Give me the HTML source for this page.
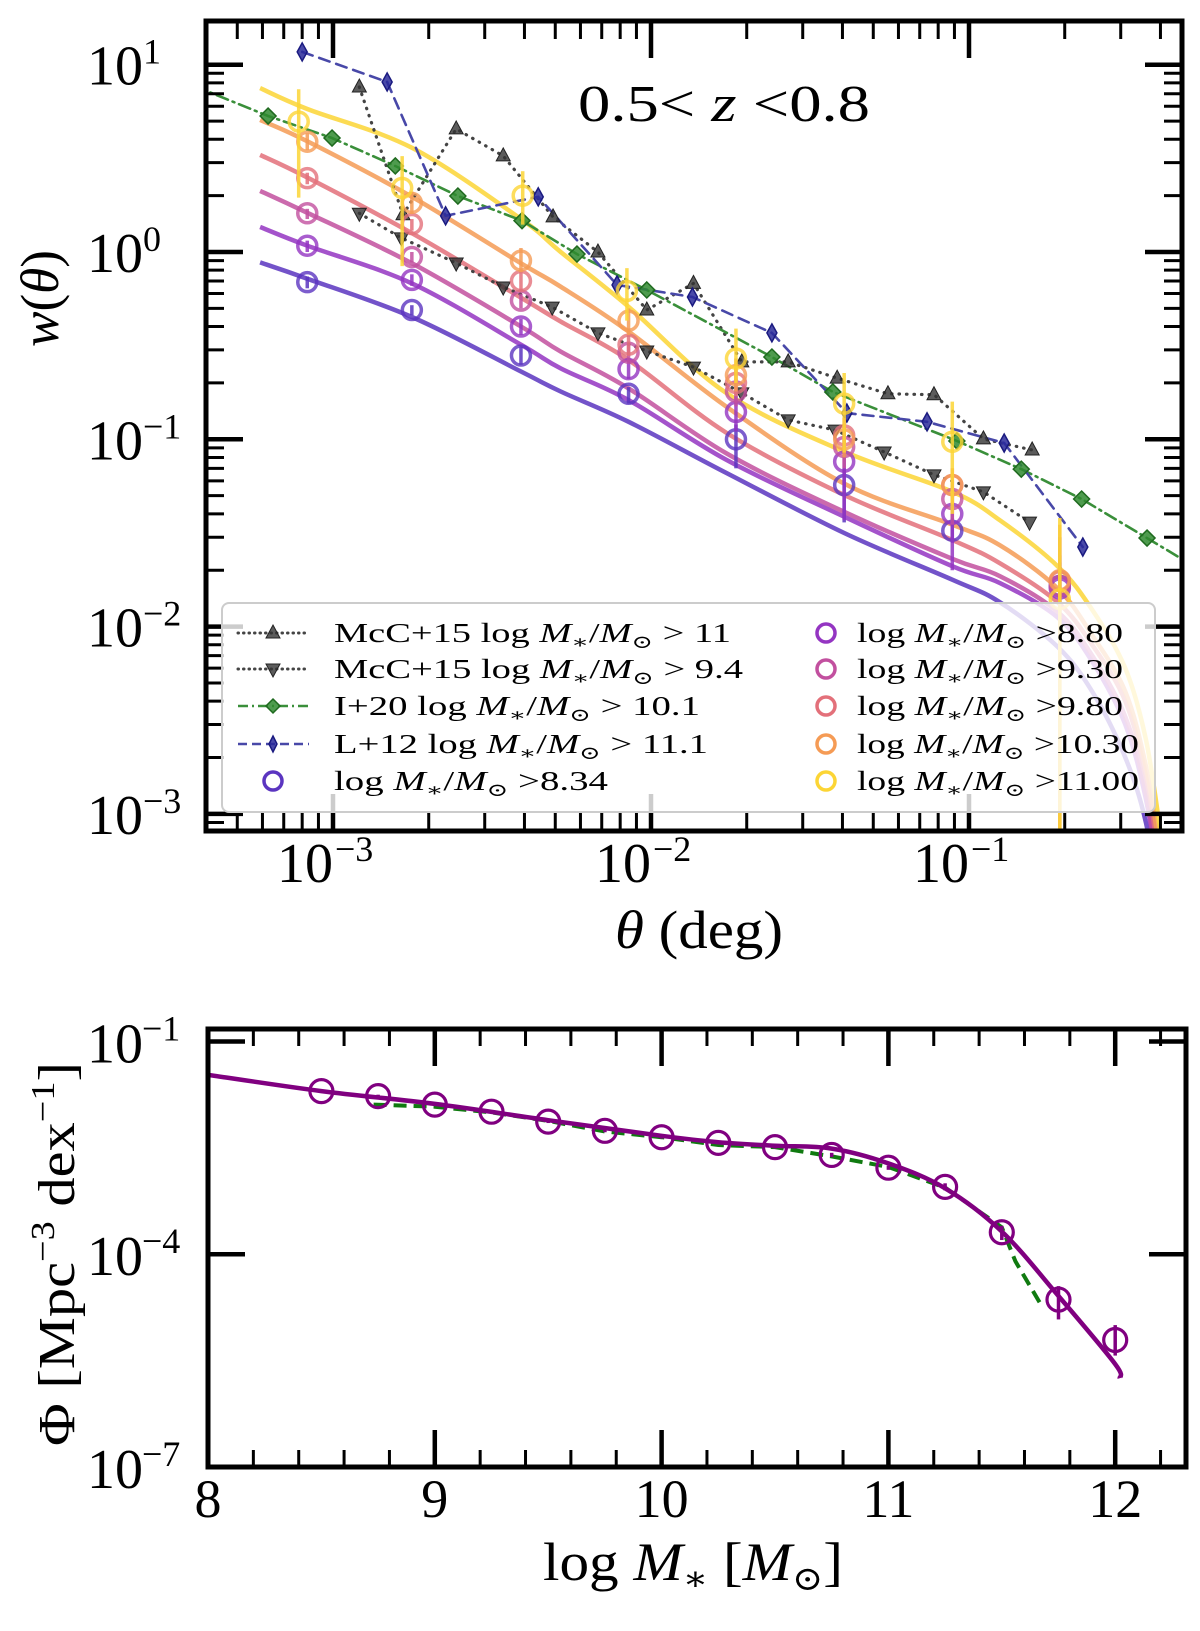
<!DOCTYPE html>
<html><head><meta charset="utf-8"><style>
html,body{margin:0;padding:0;background:#fff;}
svg{display:block;font-family:"Liberation Serif","DejaVu Serif",serif;}
</style></head><body>
<svg id="fig" width="1200" height="1631" viewBox="0 0 1200 1631" xmlns="http://www.w3.org/2000/svg">
<defs>
<clipPath id="clipTop"><rect x="206" y="21" width="976" height="810"/></clipPath>
<clipPath id="clipBot"><rect x="208" y="1029" width="978" height="438"/></clipPath>
</defs>
<g id="topPanel"></g>
<g id="botPanel"></g>
</svg>
<script>
// ---------- TOP PANEL DATA ----------
const thetaCols = [8.3e-4,1.77e-3,3.9e-3,8.5e-3,1.85e-2,4.05e-2,8.86e-2,0.193];
const thetaColsYellow = [7.8e-4,1.65e-3,3.95e-3,8.4e-3,1.85e-2,4.05e-2,8.86e-2,0.193];
const thetaFit = [5.9e-4,8.3e-4,1.77e-3,3.9e-3,5.2e-3,8.5e-3,1.73e-2,4.05e-2,8.86e-2,0.125,0.19,0.244,0.31,0.36,0.40];
const seriesLabels = ["8.34","8.80","9.30","9.80","10.30","11.00"];
const fit834 = [0.88,0.72,0.45,0.23,0.18,0.124,0.066,0.0316,0.0178,0.0135,0.0078,0.0045,0.002,0.0009,0.0003];
const fit880 = [1.36,1.08,0.68,0.32,0.239,0.162,0.0775,0.0386,0.021,0.0171,0.0112,0.0065,0.003,0.0012,0.0004];
const fit930 = [2.12,1.62,0.87,0.40,0.294,0.187,0.084,0.041,0.023,0.0186,0.012,0.007,0.0033,0.0013,0.0004];
const fit980 = [3.3,2.5,1.26,0.57,0.425,0.265,0.108,0.0504,0.029,0.0218,0.0135,0.008,0.004,0.0016,0.0005];
const fit1030 = [5.07,3.9,1.97,0.87,0.653,0.376,0.149,0.058,0.035,0.0272,0.016,0.009,0.0045,0.0018,0.0006];
const fit1100 = [7.5,5.8,3.6,1.5,1.0,0.51,0.176,0.086,0.0525,0.037,0.021,0.0123,0.006,0.0025,0.0008];
const w834 = [0.69,0.49,0.28,0.175,0.10,0.057,0.0325,0.0165];
const w880 = [1.08,0.71,0.40,0.237,0.14,0.076,0.040,0.016];
const w930 = [1.61,0.94,0.55,0.29,0.18,0.091,0.048,0.0165];
const w980 = [2.48,1.41,0.70,0.32,0.20,0.105,0.057,0.0175];
const w1030 = [3.88,1.83,0.90,0.43,0.22,0.10,0.057,0.0177];
const w1100 = [4.97,2.2,2.0,0.62,0.27,0.155,0.097,0.014];
const lo834 = [0.64,0.46,0.25,0.155,0.07,0.036,0.028,0.012];
const hi834 = [0.74,0.52,0.31,0.19,0.12,0.07,0.038,0.022];
const lo880 = [1.0,0.66,0.36,0.21,0.11,0.037,0.02,0.011];
const hi880 = [1.15,0.76,0.44,0.27,0.17,0.1,0.05,0.024];
const lo930 = [1.5,0.88,0.5,0.26,0.15,0.07,0.035,0.01];
const hi930 = [1.7,1.0,0.6,0.32,0.21,0.11,0.06,0.03];
const lo980 = [2.3,1.3,0.62,0.28,0.17,0.085,0.045,0.0002];
const hi980 = [2.65,1.5,0.78,0.36,0.24,0.13,0.07,0.03];
const lo1030 = [3.5,1.6,0.78,0.36,0.18,0.08,0.045,0.0001];
const hi1030 = [4.3,2.1,1.05,0.5,0.27,0.12,0.07,0.035];
const lo1100 = [1.95,0.84,1.4,0.43,0.2,0.085,0.04,0.0001];
const hi1100 = [7.4,3.25,2.7,0.82,0.39,0.226,0.159,0.038];
// literature
const mccHiTheta = [1.21e-3,1.66e-3,2.44e-3,3.43e-3,4.92e-3,6.81e-3,9.7e-3,1.36e-2,1.93e-2,2.70e-2,3.85e-2,5.56e-2,7.76e-2,0.111,0.158];
const mccHiW = [7.6,1.58,4.54,3.26,1.54,1.0,0.49,0.68,0.259,0.259,0.212,0.175,0.173,0.1005,0.0877];
const mccLoTheta = [1.21e-3,1.64e-3,2.44e-3,3.43e-3,4.89e-3,6.81e-3,9.7e-3,1.36e-2,1.93e-2,2.70e-2,3.79e-2,5.41e-2,7.76e-2,0.111,0.155];
const mccLoW = [1.61,1.19,0.873,0.65,0.508,0.370,0.296,0.243,0.177,0.127,0.112,0.0855,0.0646,0.0524,0.0361];
const i20Theta = [2.66e-4,6.25e-4,9.93e-4,1.57e-3,2.47e-3,3.93e-3,5.85e-3,9.7e-3,2.40e-2,3.73e-2,9.16e-2,0.146,0.226,0.363,0.662];
const i20W = [9.6,5.32,4.06,2.88,1.99,1.47,0.975,0.627,0.275,0.179,0.098,0.0693,0.048,0.0297,0.0161];
const l12Theta = [8.0e-4,1.48e-3,2.26e-3,4.42e-3,7.82e-3,1.35e-2,2.40e-2,4.13e-2,7.38e-2,0.129,0.228];
const l12W = [11.7,8.09,1.56,1.97,0.667,0.575,0.370,0.138,0.124,0.0955,0.0266];
const topYTicks = [1,0,-1,-2,-3];
const topYTickLabels = ["1","0","\u22121","\u22122","\u22123"];
const topXTicks = [-3,-2,-1];
const topXTickLabels = ["\u22123","\u22122","\u22121"];
// ---------- BOTTOM PANEL DATA ----------
const massPts = [8.5,8.75,9.0,9.25,9.5,9.75,10,10.25,10.5,10.75,11,11.25,11.5,11.75,12];
const logPhiPts = [-1.70,-1.77,-1.89,-1.99,-2.13,-2.26,-2.35,-2.43,-2.49,-2.60,-2.78,-3.05,-3.69,-4.64,-5.21];
const logPhiLo = [-1.72,-1.79,-1.91,-2.01,-2.15,-2.28,-2.37,-2.45,-2.51,-2.63,-2.81,-3.10,-3.80,-4.92,-5.43];
const logPhiHi = [-1.68,-1.75,-1.87,-1.97,-2.11,-2.24,-2.33,-2.41,-2.47,-2.57,-2.75,-3.0,-3.6,-4.45,-5.0];
const massFit = [8,8.5,9,9.5,10,10.25,10.5,10.75,11,11.25,11.5,11.75,12,12.02];
const logPhiFit = [-1.47,-1.70,-1.88,-2.11,-2.33,-2.42,-2.47,-2.51,-2.72,-3.07,-3.68,-4.59,-5.55,-5.75];
const massRef = [8.73,9,9.25,9.5,9.75,10,10.25,10.5,10.75,11,11.25,11.5,11.56,11.68];
const logPhiRef = [-1.89,-1.92,-2.0,-2.12,-2.27,-2.35,-2.46,-2.49,-2.62,-2.77,-3.06,-3.62,-4.10,-4.75];
const botXTicks = [8,9,10,11,12];
const botYTicks = [-1,-4,-7];
const botYTickLabels = ["\u22121","\u22124","\u22127"];

const NS="http://www.w3.org/2000/svg";
function mk(tag, attrs, parent){const e=document.createElementNS(NS,tag);for(const k in attrs)e.setAttribute(k,attrs[k]);if(parent)parent.appendChild(e);return e;}
const L10=Math.log10;
const X1=t=>333+318*(L10(t)+3);
const Y1=w=>252-187.3*L10(w);
const X2=m=>208+226.8*(m-8);
const Y2=lp=>1041.5-70.9*(lp+1);
function smooth(pts){
  let d=`M${pts[0][0].toFixed(1)},${pts[0][1].toFixed(1)}`;
  for(let i=0;i<pts.length-1;i++){
    const p0=pts[i-1]||pts[i],p1=pts[i],p2=pts[i+1],p3=pts[i+2]||p2;
    const c1=[p1[0]+(p2[0]-p0[0])/6,p1[1]+(p2[1]-p0[1])/6];
    const c2=[p2[0]-(p3[0]-p1[0])/6,p2[1]-(p3[1]-p1[1])/6];
    d+=` C${c1[0].toFixed(1)},${c1[1].toFixed(1)} ${c2[0].toFixed(1)},${c2[1].toFixed(1)} ${p2[0].toFixed(1)},${p2[1].toFixed(1)}`;
  }
  return d;
}
function poly(pts){return pts.map((p,i)=>(i?'L':'M')+p[0].toFixed(1)+','+p[1].toFixed(1)).join(' ');}

const topG=document.getElementById('topPanel');
const botG=document.getElementById('botPanel');
const plotT=mk('g',{'clip-path':'url(#clipTop)'},topG);



const colors=["#5b35c0","#9435c2","#c2509f","#e3707a","#f59b55","#fcd535"];
const fits=[fit834,fit880,fit930,fit980,fit1030,fit1100];
const ws=[w834,w880,w930,w980,w1030,w1100];
const los=[lo834,lo880,lo930,lo980,lo1030,lo1100];
const his=[hi834,hi880,hi930,hi980,hi1030,hi1100];

fits.forEach((f,s)=>{
  const p=mk('path',{d:smooth(thetaFit.map((t,i)=>[X1(t),Y1(f[i])])),fill:'none',stroke:colors[s],'stroke-width':4.5,'stroke-opacity':0.85},plotT);
  
  
});
function litLine(th,w,stroke,dash,width,name){
  const p=mk('path',{d:poly(th.map((t,i)=>[X1(t),Y1(w[i])])),fill:'none',stroke:stroke,'stroke-width':width,'stroke-dasharray':dash,'stroke-linecap':'round'},plotT);
  
  
}
litLine(mccHiTheta,mccHiW,'#444','0.5,7',3.2,'mcc15-high-line');
litLine(mccLoTheta,mccLoW,'#444','0.5,7',3.2,'mcc15-low-line');
litLine(i20Theta,i20W,'#3a8f3a','12,5,2,5',2.6,'i20-line');
litLine(l12Theta,l12W,'#4848a8','11,7',2.6,'l12-line');
function tri(x,y,up,g,name){
  const h=8;const d=up?`M${x},${y-h} L${x+7},${y+5} L${x-7},${y+5}Z`:`M${x},${y+h} L${x+7},${y-5} L${x-7},${y-5}Z`;
  const p=mk('path',{d:d,fill:'#333','fill-opacity':0.8,stroke:'#222','stroke-width':1},g);
  
  
}
function dia(x,y,g,fill,edge,wd,ht,name){
  const p=mk('path',{d:`M${x},${y-ht} L${x+wd},${y} L${x},${y+ht} L${x-wd},${y}Z`,fill:fill,'fill-opacity':0.85,stroke:edge,'stroke-width':1.5},g);
  
  
}
mccHiTheta.forEach((t,i)=>tri(X1(t),Y1(mccHiW[i]),true,plotT,'mcc15-high-point'));
mccLoTheta.forEach((t,i)=>tri(X1(t),Y1(mccLoW[i]),false,plotT,'mcc15-low-point'));
i20Theta.forEach((t,i)=>dia(X1(t),Y1(i20W[i]),plotT,'#2f8a2f','#1f6a1f',8,8,'i20-point'));
l12Theta.forEach((t,i)=>dia(X1(t),Y1(l12W[i]),plotT,'#2a2a9a','#1a1a80',5,9,'l12-point'));

ws.forEach((w,s)=>{
  const th = s===5?thetaColsYellow:thetaCols;
  w.forEach((v,i)=>{
    const x=X1(th[i]);
    const e=mk('line',{x1:x,x2:x,y1:Y1(his[s][i]),y2:Y1(los[s][i]),stroke:colors[s],'stroke-width':3.5,'stroke-opacity':0.85},plotT);
    
    
    const c=mk('circle',{cx:x,cy:Y1(v),r:9.5,fill:'none',stroke:colors[s],'stroke-width':3.5,'stroke-opacity':0.8},plotT);
    
    
  });
});

const tk=mk('g',{stroke:'#000'},topG);


for(let dec=-4;dec<=1;dec++){for(let k=1;k<=9;k++){
  const lg=dec+L10(k); if(lg<-3.398||lg>-0.33) continue;
  const x=333+318*(lg+3); const len=k===1?37:18; const wd=k===1?4.5:3;
  mk('line',{x1:x,x2:x,y1:831,y2:831-len,'stroke-width':wd},tk);
  mk('line',{x1:x,x2:x,y1:21,y2:21+len,'stroke-width':wd},tk);
}}
for(let dec=-4;dec<=1;dec++){for(let k=1;k<=9;k++){
  const lg=dec+L10(k); if(lg<-3.091||lg>1.233) continue;
  const y=252-187.3*lg; const len=k===1?37:18; const wd=k===1?4.5:3;
  mk('line',{x1:206,x2:206+len,y1:y,y2:y,'stroke-width':wd},tk);
  mk('line',{x1:1182,x2:1182-len,y1:y,y2:y,'stroke-width':wd},tk);
}}

const leg=mk('g',{},topG);


mk('rect',{x:222,y:603,width:933,height:209,rx:7,fill:'#fff','fill-opacity':0.8,stroke:'#cccccc','stroke-width':2},leg);
const rowsY=[642,678,715,753,790];
const rowsMid=rowsY.map(b=>b-9);
function legText(x,y,pre,post,len,g,name){
  const t=mk('text',{x:x,y:y,'font-size':27,textLength:len,lengthAdjust:'spacingAndGlyphs'},g);
  
  
  t.appendChild(document.createTextNode(pre+'log '));
  mk('tspan',{'font-style':'italic'},t).textContent='M';
  mk('tspan',{'font-size':18,dy:6},t).textContent='\u2217';
  mk('tspan',{dy:-6},t).textContent='/';
  mk('tspan',{'font-style':'italic'},t).textContent='M';
  mk('tspan',{'font-size':18,dy:6},t).textContent='\u2299';
  mk('tspan',{dy:-6},t).textContent=post;
}
const lt=[['McC+15 ',' > 11',397],['McC+15 ',' > 9.4',409],['I+20 ',' > 10.1',366],['L+12 ',' > 11.1',374],['',' >8.34',274]];
lt.forEach((r,i)=>{
  const g=mk('g',{},leg);
  
  
  const y=rowsMid[i];
  if(i===0){mk('line',{x1:238,x2:309,y1:y,y2:y,stroke:'#444','stroke-width':3,'stroke-dasharray':'0.5,5','stroke-linecap':'round'},g);tri(273,y,true,g,'legend-marker');}
  if(i===1){mk('line',{x1:238,x2:309,y1:y,y2:y,stroke:'#444','stroke-width':3,'stroke-dasharray':'0.5,5','stroke-linecap':'round'},g);tri(273,y,false,g,'legend-marker');}
  if(i===2){mk('line',{x1:238,x2:309,y1:y,y2:y,stroke:'#3a8f3a','stroke-width':2.6,'stroke-dasharray':'10,4,2,4'},g);dia(273,y,g,'#2f8a2f','#1f6a1f',7,7,'legend-marker');}
  if(i===3){mk('line',{x1:238,x2:309,y1:y,y2:y,stroke:'#4848a8','stroke-width':2.6,'stroke-dasharray':'9,5'},g);dia(273,y,g,'#2a2a9a','#1a1a80',4,8,'legend-marker');}
  if(i===4){mk('circle',{cx:273,cy:y,r:9,fill:'none',stroke:colors[0],'stroke-width':3.5},g);}
  legText(334,rowsY[i],r[0],r[1],r[2],g,'legend-label');
});
const rt=[[' >8.80',266],[' >9.30',266],[' >9.80',266],[' >10.30',282],[' >11.00',282]];
rt.forEach((r,i)=>{
  const g=mk('g',{},leg);
  
  
  mk('circle',{cx:826,cy:rowsMid[i],r:9,fill:'none',stroke:colors[i+1],'stroke-width':3.5},g);
  legText(857,rowsY[i],'',r[0],r[1],g,'legend-label');
});

const fr=mk('rect',{x:206,y:21,width:976,height:810,fill:'none',stroke:'#000','stroke-width':5},topG);



topYTicks.forEach((v,i)=>{
  const y=252-187.3*v;
  const t=mk('text',{x:87,y:y+20,'font-size':56},topG);
  
  
  t.textContent='10';
  const e=mk('text',{x:143,y:y-1,'font-size':36},topG);
  
  
  e.textContent=topYTickLabels[i];
});
topXTicks.forEach((v,i)=>{
  const x=333+318*(v+3);
  const t=mk('text',{x:x,y:882,'font-size':56,'text-anchor':'end'},topG);
  
  
  t.textContent='10';
  const e=mk('text',{x:x+2,y:861,'font-size':36},topG);
  
  
  e.textContent=topXTickLabels[i];
});
let tt=mk('text',{x:578,y:121,'font-size':52,textLength:292,lengthAdjust:'spacingAndGlyphs'},topG);


tt.appendChild(document.createTextNode('0.5< '));
mk('tspan',{'font-style':'italic'},tt).textContent='z';
tt.appendChild(document.createTextNode(' <0.8'));
tt=mk('text',{x:615,y:948,'font-size':54,textLength:168,lengthAdjust:'spacingAndGlyphs'},topG);


mk('tspan',{'font-style':'italic'},tt).textContent='\u03b8';
tt.appendChild(document.createTextNode(' (deg)'));
tt=mk('text',{x:0,y:0,'font-size':54,transform:'translate(58,347) rotate(-90)',textLength:97,lengthAdjust:'spacingAndGlyphs'},topG);


mk('tspan',{'font-style':'italic'},tt).textContent='w';
tt.appendChild(document.createTextNode('('));
mk('tspan',{'font-style':'italic'},tt).textContent='\u03b8';
tt.appendChild(document.createTextNode(')'));

// ---------- BOTTOM ----------
const plotB=mk('g',{'clip-path':'url(#clipBot)'},botG);


let pp=mk('path',{d:poly(massRef.map((m,i)=>[X2(m),Y2(logPhiRef[i])])),fill:'none',stroke:'#107a10','stroke-width':4,'stroke-dasharray':'13,7'},plotB);


pp=mk('path',{d:smooth(massFit.map((m,i)=>[X2(m),Y2(logPhiFit[i])])),fill:'none',stroke:'#800080','stroke-width':4.5},plotB);


massPts.forEach((m,i)=>{
  const x=X2(m);
  const e=mk('line',{x1:x,x2:x,y1:Y2(logPhiHi[i]),y2:Y2(logPhiLo[i]),stroke:'#800080','stroke-width':3.5},plotB);
  
  
  const c=mk('circle',{cx:x,cy:Y2(logPhiPts[i]),r:11.5,fill:'none',stroke:'#800080','stroke-width':3.2},plotB);
  
  
});
const tb=mk('g',{stroke:'#000'},botG);


for(let k=0;k<=21;k++){
  const m=8+k*0.2; if(m>12.31) continue;
  const x=X2(m); const major=(k%5===0); const len=major?37:17; const wd=major?4.5:3;
  mk('line',{x1:x,x2:x,y1:1467,y2:1467-len,'stroke-width':wd},tb);
  mk('line',{x1:x,x2:x,y1:1029,y2:1029+len,'stroke-width':wd},tb);
}
botYTicks.forEach(v=>{
  const y=Y2(v);
  mk('line',{x1:208,x2:245,y1:y,y2:y,'stroke-width':4.5},tb);
  mk('line',{x1:1186,x2:1149,y1:y,y2:y,'stroke-width':4.5},tb);
});
const fb=mk('rect',{x:208,y:1029,width:978,height:438,fill:'none',stroke:'#000','stroke-width':5},botG);


botYTicks.forEach((v,i)=>{
  const y=Y2(v);
  const t=mk('text',{x:87,y:y+21,'font-size':56},botG);
  
  
  t.textContent='10';
  const e=mk('text',{x:142,y:y-1,'font-size':36},botG);
  
  
  e.textContent=botYTickLabels[i];
});
botXTicks.forEach(v=>{
  const t=mk('text',{x:X2(v),y:1517,'font-size':54,'text-anchor':'middle'},botG);
  
  
  t.textContent=String(v);
});
tt=mk('text',{x:543,y:1580,'font-size':54,textLength:300,lengthAdjust:'spacingAndGlyphs'},botG);


tt.appendChild(document.createTextNode('log '));
mk('tspan',{'font-style':'italic'},tt).textContent='M';
mk('tspan',{'font-size':34,dy:10},tt).textContent='\u2217';
mk('tspan',{dy:-10},tt).textContent=' [';
mk('tspan',{'font-style':'italic'},tt).textContent='M';
mk('tspan',{'font-size':34,dy:10},tt).textContent='\u2299';
mk('tspan',{dy:-10},tt).textContent=']';
tt=mk('text',{x:0,y:0,'font-size':52,transform:'translate(74,1446) rotate(-90)',textLength:384,lengthAdjust:'spacingAndGlyphs'},botG);


tt.appendChild(document.createTextNode('\u03a6 [Mpc'));
mk('tspan',{'font-size':34,dy:-20},tt).textContent='\u22123';
mk('tspan',{dy:20},tt).textContent=' dex';
mk('tspan',{'font-size':34,dy:-20},tt).textContent='\u22121';
mk('tspan',{dy:20},tt).textContent=']';
</script>
</body></html>
